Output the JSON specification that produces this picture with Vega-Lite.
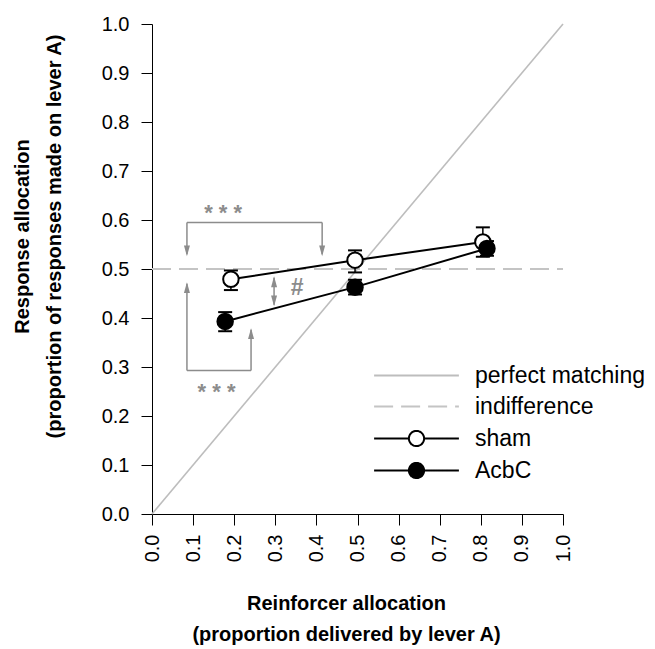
{
  "$schema": "https://vega.github.io/schema/vega-lite/v6.json",
  "width": 411,
  "height": 490,
  "autosize": {"type": "none"},
  "padding": {"left": 152, "top": 24, "right": 92, "bottom": 135},
  "background": "white",
  "config": {
    "view": {"stroke": null},
    "font": "Liberation Sans",
    "axis": {
      "grid": false,
      "domainColor": "black",
      "domainWidth": 1,
      "tickColor": "black",
      "tickWidth": 1,
      "tickSize": 11,
      "labelColor": "black",
      "labelFont": "Liberation Sans",
      "labelFontSize": 20,
      "titleColor": "black",
      "titleFont": "Liberation Sans",
      "titleFontSize": 20,
      "titleFontWeight": "bold"
    }
  },
  "datasets": {
    "pts": [
      {"series": "sham", "x": 0.192, "y": 0.479, "lo": 0.457, "hi": 0.497},
      {"series": "sham", "x": 0.494, "y": 0.518, "lo": 0.493, "hi": 0.538},
      {"series": "sham", "x": 0.805, "y": 0.555, "lo": 0.525, "hi": 0.585},
      {"series": "AcbC", "x": 0.178, "y": 0.393, "lo": 0.373, "hi": 0.412},
      {"series": "AcbC", "x": 0.494, "y": 0.463, "lo": 0.448, "hi": 0.478},
      {"series": "AcbC", "x": 0.815, "y": 0.542, "lo": 0.527, "hi": 0.557}
    ],
    "refs": [
      {"series": "perfect matching", "x": 0, "y": 0, "x2": 1, "y2": 1},
      {"series": "indifference", "x": 0, "y": 0.5, "x2": 1, "y2": 0.5}
    ],
    "segs": [
      {"x": 0.085, "y": 0.595, "x2": 0.085, "y2": 0.53},
      {"x": 0.085, "y": 0.595, "x2": 0.414, "y2": 0.595},
      {"x": 0.414, "y": 0.595, "x2": 0.414, "y2": 0.53},
      {"x": 0.085, "y": 0.47, "x2": 0.085, "y2": 0.293},
      {"x": 0.085, "y": 0.293, "x2": 0.241, "y2": 0.293},
      {"x": 0.241, "y": 0.293, "x2": 0.241, "y2": 0.376},
      {"x": 0.297, "y": 0.482, "x2": 0.297, "y2": 0.427}
    ],
    "heads": [
      {"dir": "down", "x": 0.085, "y": 0.526},
      {"dir": "down", "x": 0.414, "y": 0.526},
      {"dir": "down", "x": 0.297, "y": 0.424},
      {"dir": "up", "x": 0.085, "y": 0.473},
      {"dir": "up", "x": 0.241, "y": 0.379},
      {"dir": "up", "x": 0.297, "y": 0.485}
    ],
    "notes": [
      {"kind": "stars", "x": 0.173, "y": 0.626, "label": "* * *"},
      {"kind": "stars", "x": 0.157, "y": 0.262, "label": "* * *"},
      {"kind": "hash", "x": 0.353, "y": 0.463, "label": "#"}
    ]
  },
  "layer": [
    {
      "data": {"name": "refs"},
      "transform": [{"filter": "datum.series == 'perfect matching'"}],
      "mark": {"type": "rule", "color": "#bdbdbd", "strokeWidth": 1.6},
      "encoding": {
        "x": {
          "field": "x", "type": "quantitative",
          "scale": {"domain": [0, 1], "nice": false, "zero": false},
          "axis": {
            "values": [0, 0.1, 0.2, 0.3, 0.4, 0.5, 0.6, 0.7, 0.8, 0.9, 1],
            "format": ".1f",
            "labelAngle": 270,
            "labelPadding": 9,
            "title": ["Reinforcer allocation", "(proportion delivered by lever A)"],
            "titleX": 194,
            "titleY": 95,
            "titleAlign": "center",
            "titleBaseline": "alphabetic",
            "titleLineHeight": 31
          }
        },
        "y": {
          "field": "y", "type": "quantitative",
          "scale": {"domain": [0, 1], "nice": false, "zero": false},
          "axis": {
            "values": [0, 0.1, 0.2, 0.3, 0.4, 0.5, 0.6, 0.7, 0.8, 0.9, 1],
            "format": ".1f",
            "labelPadding": 12,
            "title": ["Response allocation", "(proportion of responses made on lever A)"],
            "titleAngle": 270,
            "titleX": -124,
            "titleY": 212,
            "titleAlign": "center",
            "titleBaseline": "alphabetic",
            "titleLineHeight": 32
          }
        },
        "x2": {"field": "x2"},
        "y2": {"field": "y2"}
      }
    },
    {
      "data": {"name": "refs"},
      "transform": [{"filter": "datum.series == 'indifference'"}],
      "mark": {"type": "rule", "color": "#c4c4c4", "strokeWidth": 2, "strokeDash": [19, 8]},
      "encoding": {
        "x": {"field": "x", "type": "quantitative"},
        "y": {"field": "y", "type": "quantitative"},
        "x2": {"field": "x2"},
        "y2": {"field": "y2"}
      }
    },
    {
      "data": {"name": "segs"},
      "mark": {"type": "rule", "color": "#8c8c8c", "strokeWidth": 1.5},
      "encoding": {
        "x": {"field": "x", "type": "quantitative"},
        "y": {"field": "y", "type": "quantitative"},
        "x2": {"field": "x2"},
        "y2": {"field": "y2"}
      }
    },
    {
      "data": {"name": "heads"},
      "transform": [{"filter": "datum.dir == 'down'"}],
      "mark": {"type": "point", "filled": true, "opacity": 1, "color": "#8c8c8c", "size": 64, "shape": "M0,0L-0.75,-2.7L0.75,-2.7Z"},
      "encoding": {
        "x": {"field": "x", "type": "quantitative"},
        "y": {"field": "y", "type": "quantitative"}
      }
    },
    {
      "data": {"name": "heads"},
      "transform": [{"filter": "datum.dir == 'up'"}],
      "mark": {"type": "point", "filled": true, "opacity": 1, "color": "#8c8c8c", "size": 64, "shape": "M0,0L-0.75,2.7L0.75,2.7Z"},
      "encoding": {
        "x": {"field": "x", "type": "quantitative"},
        "y": {"field": "y", "type": "quantitative"}
      }
    },
    {
      "data": {"name": "notes"},
      "transform": [{"filter": "datum.kind == 'stars'"}],
      "mark": {"type": "text", "color": "#8c8c8c", "fontSize": 22, "fontWeight": "bold", "align": "center", "baseline": "middle", "dy": 6},
      "encoding": {
        "x": {"field": "x", "type": "quantitative"},
        "y": {"field": "y", "type": "quantitative"},
        "text": {"field": "label"}
      }
    },
    {
      "data": {"name": "notes"},
      "transform": [{"filter": "datum.kind == 'hash'"}],
      "mark": {"type": "text", "color": "#8c8c8c", "fontSize": 23, "fontWeight": "bold", "align": "center", "baseline": "middle", "dy": 1},
      "encoding": {
        "x": {"field": "x", "type": "quantitative"},
        "y": {"field": "y", "type": "quantitative"},
        "text": {"field": "label"}
      }
    },
    {
      "data": {"name": "pts"},
      "mark": {"type": "line", "color": "black", "strokeWidth": 2},
      "encoding": {
        "x": {"field": "x", "type": "quantitative"},
        "y": {"field": "y", "type": "quantitative"},
        "detail": {"field": "series"}
      }
    },
    {
      "data": {"name": "pts"},
      "mark": {"type": "rule", "color": "black", "strokeWidth": 1.5},
      "encoding": {
        "x": {"field": "x", "type": "quantitative"},
        "y": {"field": "lo", "type": "quantitative"},
        "y2": {"field": "hi"}
      }
    },
    {
      "data": {"name": "pts"},
      "mark": {"type": "tick", "orient": "horizontal", "color": "black", "size": 14, "thickness": 2, "opacity": 1},
      "encoding": {
        "x": {"field": "x", "type": "quantitative"},
        "y": {"field": "hi", "type": "quantitative"}
      }
    },
    {
      "data": {"name": "pts"},
      "mark": {"type": "tick", "orient": "horizontal", "color": "black", "size": 14, "thickness": 2, "opacity": 1},
      "encoding": {
        "x": {"field": "x", "type": "quantitative"},
        "y": {"field": "lo", "type": "quantitative"}
      }
    },
    {
      "data": {"name": "pts"},
      "transform": [{"filter": "datum.series == 'sham'"}],
      "mark": {"type": "point", "shape": "circle", "filled": true, "fill": "white", "stroke": "black", "strokeWidth": 2, "size": 240, "opacity": 1},
      "encoding": {
        "x": {"field": "x", "type": "quantitative"},
        "y": {"field": "y", "type": "quantitative"}
      }
    },
    {
      "data": {"name": "pts"},
      "transform": [{"filter": "datum.series == 'AcbC'"}],
      "mark": {"type": "point", "shape": "circle", "filled": true, "fill": "black", "stroke": "black", "strokeWidth": 2, "size": 240, "opacity": 1},
      "encoding": {
        "x": {"field": "x", "type": "quantitative"},
        "y": {"field": "y", "type": "quantitative"}
      }
    },
    {
      "data": {"name": "pts"},
      "transform": [{"filter": "false"}],
      "mark": {"type": "point", "filled": true, "opacity": 1, "strokeWidth": 2},
      "encoding": {
        "x": {"field": "x", "type": "quantitative"},
        "y": {"field": "y", "type": "quantitative"},
        "shape": {
          "field": "series", "type": "nominal",
          "scale": {
            "domain": ["perfect matching", "indifference", "sham", "AcbC"],
            "range": [
              "M-5.3,0H5.3",
              "M-5.3,0H5.3",
              "M-5.3,0H-0.95M0.95,0H5.3M-0.95,0A0.95,0.95 0 1,0 0.95,0A0.95,0.95 0 1,0 -0.95,0",
              "M-5.3,0H-0.95M0.95,0H5.3M-0.95,0A0.95,0.95 0 1,0 0.95,0A0.95,0.95 0 1,0 -0.95,0"
            ]
          },
          "legend": {
            "orient": "none",
            "legendX": 253,
            "legendY": 340,
            "title": null,
            "padding": 0,
            "symbolSize": 256,
            "symbolStrokeWidth": 2,
            "labelFont": "Liberation Sans",
            "labelFontSize": 23,
            "labelColor": "black",
            "labelOffset": 47,
            "labelLimit": 400,
            "rowPadding": 7
          }
        },
        "stroke": {
          "field": "series", "type": "nominal",
          "scale": {
            "domain": ["perfect matching", "indifference", "sham", "AcbC"],
            "range": ["#bdbdbd", "#c4c4c4", "black", "black"]
          }
        },
        "fill": {
          "field": "series", "type": "nominal",
          "scale": {
            "domain": ["perfect matching", "indifference", "sham", "AcbC"],
            "range": ["white", "white", "white", "black"]
          }
        },
        "strokeDash": {
          "field": "series", "type": "nominal",
          "scale": {
            "domain": ["perfect matching", "indifference", "sham", "AcbC"],
            "range": [[1, 0], [19, 8], [1, 0], [1, 0]]
          }
        }
      }
    }
  ]
}
